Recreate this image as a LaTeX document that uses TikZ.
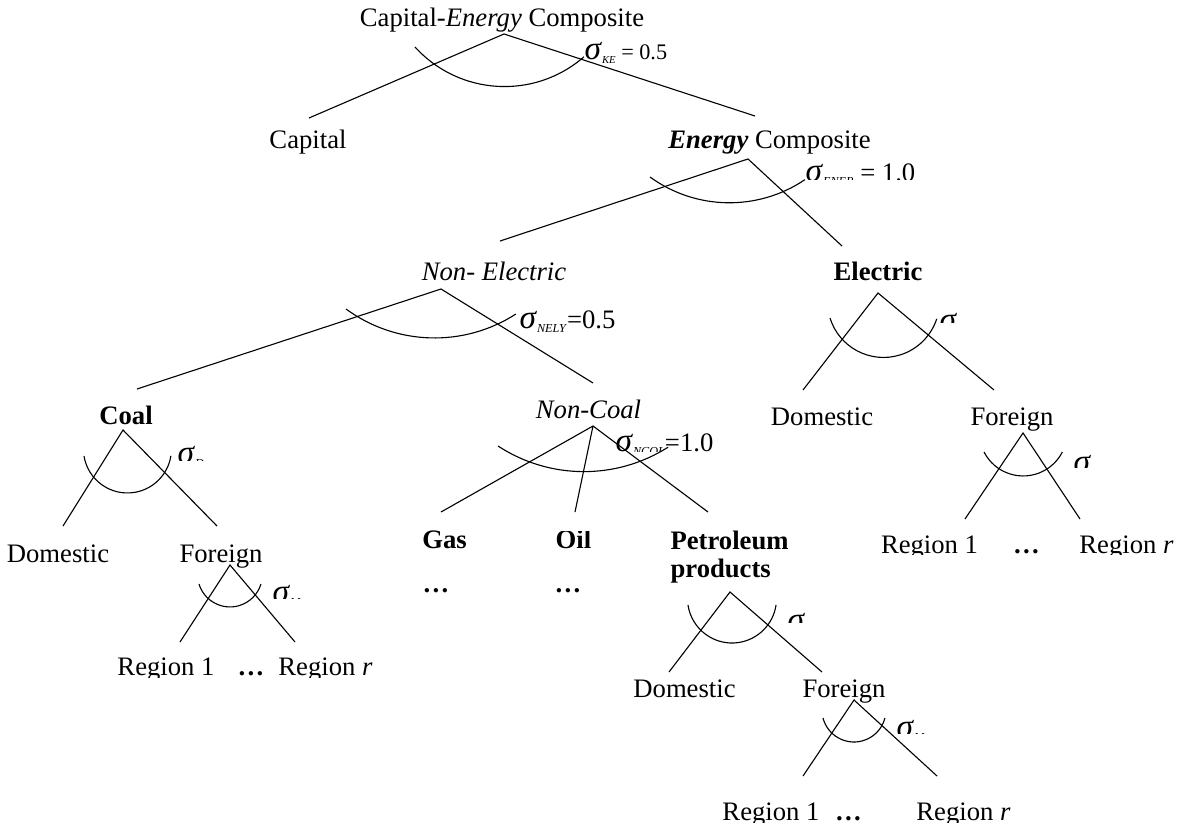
\documentclass[tikz,border=0pt]{standalone}
\usepackage{fontspec}
\setmainfont{Liberation Serif}
\usetikzlibrary{positioning}
\newcommand{\sig}[2][5.5]{{\fontsize{15}{15}\selectfont\textit{σ}}\raisebox{-0.35ex}{\fontsize{#1}{#1}\selectfont\textit{#2}}}

\begin{document}
\begin{tikzpicture}[x=0.45pt,y=-0.45pt,line width=0.5pt,
  lbl/.style={inner sep=0pt,anchor=base,font=\fontsize{12}{12.6}\selectfont},
  siglbl/.style={inner sep=0pt,anchor=base west,font=\fontsize{12}{12.6}\selectfont}]
\useasboundingbox (0,0) rectangle (1185,825);

% Writing
\node[lbl] (ce) at (502,27) {Capital-\textit{Energy} Composite}; % Top
\node[siglbl,font=\fontsize{10}{12}\selectfont] (sKE) at (584,60) {\sig[4.8]{KE} = 0.5};
\node[lbl] (cap) at (308,148) {Capital};
\node[lbl] (en) at (769.5,148) {\textbf{\textit{Energy}} Composite};
\node[lbl] (nel) at (494,280) {\textit{Non- Electric}};
\node[lbl] (el) at (878,280) {\textbf{Electric}};
\node[siglbl] (sNELY) at (519,328) {\sig{NELY}=0.5};
\node[lbl] (coal) at (126,424) {\textbf{Coal}};
\node[lbl] (ncoal) at (588.5,418) {\textit{Non-Coal}};
\node[lbl] (elDom) at (822,425) {Domestic};
\node[lbl] (elFor) at (1012,425) {Foreign};
\node[lbl] (coDom) at (58,562) {Domestic};
\node[lbl] (coFor) at (221,562) {Foreign};
\node[lbl] (gas) at (444.5,548) {\textbf{Gas}};
\node[inner sep=0pt,anchor=north west,align=left,font=\bfseries\fontsize{12}{12.6}\selectfont] (pet) at (670,530) {Petroleum\\products};
\node[lbl] (gasDots) at (436,592) {\textbf{…}};
\node[lbl] (oilDots) at (568,592) {\textbf{…}};
\node[lbl] (petDom) at (684.5,697) {Domestic};
\node[lbl] (petFor) at (844,697) {Foreign};

% Clipped texts
\begin{scope}
\clip (800,150) rectangle (930,179);
\node[siglbl] (sENER) at (805,181) {\sig{ENER} = 1.0};
\end{scope}
\begin{scope}
\clip (540,531) rectangle (610,560);
\node[lbl] (oil) at (573.5,548) {\textbf{Oil}};
\end{scope}
\begin{scope}
\clip (600,425) rectangle (730,451);
\node[siglbl] (sNCOL) at (615,451) {\sig{NCOL}=1.0};
\end{scope}
\begin{scope}
\clip (930,300) rectangle (990,322);
\node[siglbl] (sDel) at (939,330) {\sig{D}};
\end{scope}
\begin{scope}
\clip (170,440) rectangle (230,460);
\node[siglbl] (sDco) at (177,463) {\sig{D}};
\end{scope}
\begin{scope}
\clip (1065,445) rectangle (1130,467);
\node[siglbl] (sMel) at (1073,472) {\sig{M}};
\end{scope}
\begin{scope}
\clip (265,575) rectangle (330,598);
\node[siglbl] (sMco) at (272,602) {\sig{M}};
\end{scope}
\begin{scope}
\clip (780,605) rectangle (840,622);
\node[siglbl] (sDpet) at (787,630) {\sig{D}};
\end{scope}
\begin{scope}
\clip (890,710) rectangle (950,733);
\node[siglbl] (sMpet) at (896,737) {\sig{M}};
\end{scope}
\begin{scope}
\clip (870,520) rectangle (1185,554);
\node[lbl] (elR1) at (929.5,553) {Region 1};
\node[lbl] (elRd) at (1026.5,553) {\textbf{…}};
\node[lbl] (elRr) at (1126.5,553) {Region \textit{r}};
\end{scope}
\begin{scope}
\clip (110,640) rectangle (380,677);
\node[lbl] (coR1) at (166,675) {Region 1};
\node[lbl] (coRd) at (251,675) {\textbf{…}};
\node[lbl] (coRr) at (325.5,675) {Region \textit{r}};
\end{scope}
\begin{scope}
\clip (715,790) rectangle (1020,822);
\node[lbl] (petR1) at (771,820) {Region 1};
\node[lbl] (petRd) at (848.5,820) {\textbf{…}};
\node[lbl] (petRr) at (963.5,820) {Region \textit{r}};
\end{scope}

% Tree points
\coordinate (ceA) at (504,34);     \coordinate (ceL) at (309,118);   \coordinate (ceR) at (755,116);
\coordinate (enA) at (748,159);    \coordinate (enL) at (500,241);   \coordinate (enR) at (842,246);
\coordinate (nelA) at (441,289);   \coordinate (nelL) at (137,389);  \coordinate (nelR) at (593,383);
\coordinate (elA) at (878,293);    \coordinate (elL) at (803,390);   \coordinate (elR) at (994,390);
\coordinate (coalA) at (123,430);  \coordinate (coalL) at (63,526);  \coordinate (coalR) at (217,526);
\coordinate (ncA) at (593,426);    \coordinate (ncL) at (441,512);   \coordinate (ncM) at (575,512);  \coordinate (ncR) at (708,512);
\coordinate (elFA) at (1023,433);  \coordinate (elFL) at (965,519);  \coordinate (elFR) at (1080,519);
\coordinate (coFA) at (230,565);   \coordinate (coFL) at (180,642);  \coordinate (coFR) at (295,642);
\coordinate (petA) at (730,592);   \coordinate (petL) at (669,672);  \coordinate (petR) at (822,672);
\coordinate (petFA) at (854,700);  \coordinate (petFL) at (803,776); \coordinate (petFR) at (937,776);

% Branches
\draw (ceL) -- (ceA) -- (ceR);
\draw (enL) -- (enA) -- (enR);
\draw (nelL) -- (nelA) -- (nelR);
\draw (elL) -- (elA) -- (elR);
\draw (coalL) -- (coalA) -- (coalR);
\draw (ncL) -- (ncA) -- (ncR);
\draw (ncA) -- (ncM);
\draw (elFL) -- (elFA) -- (elFR);
\draw (coFL) -- (coFA) -- (coFR);
\draw (petL) -- (petA) -- (petR);
\draw (petFL) -- (petFA) -- (petFR);

% Arcs
\draw (415,47) arc[start angle=137.7,end angle=49,radius=121];
\draw (650,177) arc[start angle=126,end angle=56,radius=135];
\draw (346,309) arc[start angle=126.2,end angle=57.2,radius=150];
\draw (830,318) arc[start angle=162.8,end angle=18.1,radius=56];
\draw (84,456) arc[start angle=170.8,end angle=9,radius=44];
\draw (498,446) arc[start angle=123.2,end angle=57.6,radius=157];
\draw (984,452) arc[start angle=152.9,end angle=27.1,radius=44];
\draw (199,584) arc[start angle=163,end angle=17,radius=32.4];
\draw (688,605) arc[start angle=171.6,end angle=8.4,radius=44.5];
\draw (823,718) arc[start angle=165.5,end angle=14.5,radius=32];
\end{tikzpicture}
\end{document}
